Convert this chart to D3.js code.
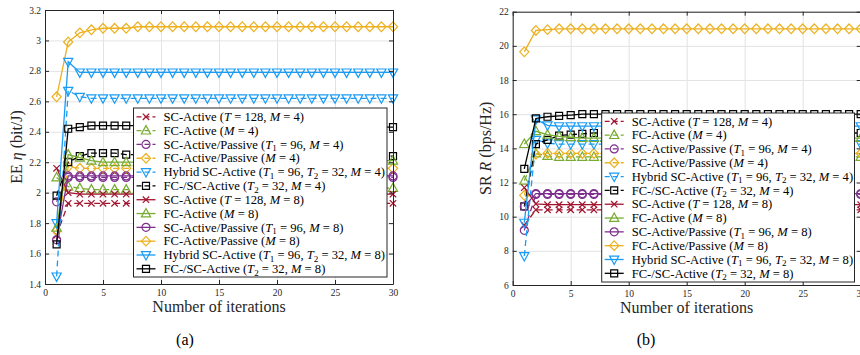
<!DOCTYPE html>
<html>
<head>
<meta charset="utf-8">
<script src="https://cdn.jsdelivr.net/npm/d3@7"></script>
<style>
  body { margin: 0; background: #fff; }
  svg { display: block; }
  svg text { font-family: "Liberation Serif", "DejaVu Serif", serif; }
</style>
</head>
<body>
<div id="chart"></div>
<script>
// iterations on the x axis
const iterations = [1, 2, 3, 4, 5, 6, 7, 8, 9, 10, 11, 12, 13, 14, 15, 16, 17, 18, 19, 20, 21, 22, 23, 24, 25, 26, 27, 28, 29, 30];

// legend labels (markup: *x* italic, _n subscript)
const labels = [
  "SC-Active (*T* = 128, *M* = 4)",
  "FC-Active (*M* = 4)",
  "SC-Active/Passive (*T*_1 = 96, *M* = 4)",
  "FC-Active/Passive (*M* = 4)",
  "Hybrid SC-Active (*T*_1 = 96, *T*_2 = 32, *M* = 4)",
  "FC-/SC-Active (*T*_2 = 32, *M* = 4)",
  "SC-Active (*T* = 128, *M* = 8)",
  "FC-Active (*M* = 8)",
  "SC-Active/Passive (*T*_1 = 96, *M* = 8)",
  "FC-Active/Passive (*M* = 8)",
  "Hybrid SC-Active (*T*_1 = 96, *T*_2 = 32, *M* = 8)",
  "FC-/SC-Active (*T*_2 = 32, *M* = 8)"
];

// (a) energy efficiency, bit/J
const eeScAct4 = [1.72, 1.93, 1.93, 1.93, 1.93, 1.93, 1.93, 1.93, 1.93, 1.93,
                  1.93, 1.93, 1.93, 1.93, 1.93, 1.93, 1.93, 1.93, 1.93, 1.93,
                  1.93, 1.93, 1.93, 1.93, 1.93, 1.93, 1.93, 1.93, 1.93, 1.93];
const eeFcAct4 = [2.10, 2.04, 2.03, 2.02, 2.02, 2.02, 2.02, 2.02, 2.02, 2.02,
                  2.02, 2.02, 2.02, 2.02, 2.02, 2.02, 2.02, 2.02, 2.02, 2.02,
                  2.02, 2.02, 2.02, 2.02, 2.03, 2.03, 2.03, 2.03, 2.03, 2.03];
const eeScPas4 = [1.94, 2.10, 2.10, 2.10, 2.10, 2.10, 2.10, 2.10, 2.10, 2.10,
                  2.10, 2.10, 2.10, 2.10, 2.10, 2.10, 2.10, 2.10, 2.10, 2.10,
                  2.10, 2.10, 2.10, 2.10, 2.10, 2.10, 2.10, 2.10, 2.10, 2.10];
const eeFcPas4 = [1.75, 2.17, 2.16, 2.16, 2.16, 2.16, 2.16, 2.16, 2.16, 2.16,
                  2.16, 2.16, 2.16, 2.16, 2.16, 2.16, 2.16, 2.16, 2.16, 2.16,
                  2.16, 2.16, 2.16, 2.16, 2.16, 2.16, 2.16, 2.16, 2.16, 2.16];
const eeHyb4   = [1.45, 2.67, 2.63, 2.62, 2.62, 2.62, 2.62, 2.62, 2.62, 2.62,
                  2.62, 2.62, 2.62, 2.62, 2.62, 2.62, 2.62, 2.62, 2.62, 2.62,
                  2.62, 2.62, 2.62, 2.62, 2.62, 2.62, 2.62, 2.62, 2.62, 2.62];
const eeFcSc4  = [1.98, 2.20, 2.24, 2.26, 2.26, 2.26, 2.25, 2.25, 2.25, 2.25,
                  2.25, 2.25, 2.25, 2.25, 2.25, 2.25, 2.25, 2.25, 2.25, 2.25,
                  2.24, 2.24, 2.24, 2.24, 2.24, 2.24, 2.24, 2.24, 2.24, 2.24];
const eeScAct8 = [2.16, 2.00, 1.99, 1.99, 1.99, 1.99, 1.99, 1.99, 1.99, 1.99,
                  1.99, 1.99, 1.99, 1.99, 1.99, 1.99, 1.99, 1.99, 1.99, 1.99,
                  1.99, 1.99, 1.99, 1.99, 1.99, 1.99, 1.99, 1.99, 1.99, 1.99];
const eeFcAct8 = [1.77, 2.25, 2.23, 2.21, 2.20, 2.20, 2.20, 2.20, 2.20, 2.20,
                  2.20, 2.20, 2.20, 2.20, 2.20, 2.20, 2.20, 2.20, 2.20, 2.20,
                  2.20, 2.20, 2.20, 2.20, 2.21, 2.21, 2.21, 2.21, 2.21, 2.21];
const eeScPas8 = [1.69, 2.11, 2.11, 2.11, 2.11, 2.11, 2.11, 2.11, 2.11, 2.11,
                  2.11, 2.11, 2.11, 2.11, 2.11, 2.11, 2.11, 2.11, 2.11, 2.11,
                  2.11, 2.11, 2.11, 2.11, 2.11, 2.11, 2.11, 2.11, 2.11, 2.11];
const eeFcPas8 = [2.63, 2.99, 3.05, 3.07, 3.08, 3.08, 3.08, 3.09, 3.09, 3.09,
                  3.09, 3.09, 3.09, 3.09, 3.09, 3.09, 3.09, 3.09, 3.09, 3.09,
                  3.09, 3.09, 3.09, 3.09, 3.09, 3.09, 3.09, 3.09, 3.09, 3.09];
const eeHyb8   = [1.80, 2.86, 2.79, 2.79, 2.79, 2.79, 2.79, 2.79, 2.79, 2.79,
                  2.79, 2.79, 2.79, 2.79, 2.79, 2.79, 2.79, 2.79, 2.79, 2.79,
                  2.79, 2.79, 2.79, 2.79, 2.79, 2.79, 2.79, 2.79, 2.79, 2.79];
const eeFcSc8  = [1.66, 2.42, 2.43, 2.44, 2.44, 2.44, 2.44, 2.44, 2.44, 2.44,
                  2.44, 2.44, 2.44, 2.44, 2.44, 2.44, 2.44, 2.44, 2.43, 2.43,
                  2.43, 2.43, 2.43, 2.43, 2.43, 2.43, 2.43, 2.43, 2.43, 2.43];

// (b) sum rate, bps/Hz
const srScAct4 = [9.5, 10.4, 10.4, 10.4, 10.4, 10.4, 10.4, 10.4, 10.4, 10.4,
                  10.4, 10.4, 10.4, 10.4, 10.4, 10.4, 10.4, 10.4, 10.4, 10.4,
                  10.4, 10.4, 10.4, 10.4, 10.4, 10.4, 10.4, 10.4, 10.4, 10.4];
const srFcAct4 = [12.1, 13.7, 13.55, 13.5, 13.5, 13.5, 13.5, 13.5, 13.5, 13.5,
                  13.5, 13.5, 13.5, 13.5, 13.5, 13.5, 13.5, 13.5, 13.5, 13.5,
                  13.5, 13.5, 13.5, 13.5, 13.5, 13.5, 13.5, 13.5, 13.5, 13.5];
const srScPas4 = [9.2, 11.3, 11.3, 11.3, 11.3, 11.3, 11.3, 11.3, 11.3, 11.3,
                  11.3, 11.3, 11.3, 11.3, 11.3, 11.3, 11.3, 11.3, 11.3, 11.3,
                  11.3, 11.3, 11.3, 11.3, 11.3, 11.3, 11.3, 11.3, 11.3, 11.3];
const srFcPas4 = [11.25, 13.65, 13.7, 13.7, 13.7, 13.7, 13.7, 13.7, 13.7, 13.7,
                  13.7, 13.7, 13.7, 13.7, 13.7, 13.7, 13.7, 13.7, 13.7, 13.7,
                  13.7, 13.7, 13.7, 13.7, 13.7, 13.7, 13.7, 13.7, 13.7, 13.7];
const srHyb4   = [7.7, 14.5, 14.3, 14.25, 14.25, 14.25, 14.25, 14.25, 14.25, 14.25,
                  14.25, 14.25, 14.25, 14.25, 14.25, 14.25, 14.25, 14.25, 14.25, 14.25,
                  14.25, 14.25, 14.25, 14.25, 14.25, 14.25, 14.25, 14.25, 14.25, 14.25];
const srFcSc4  = [10.6, 14.25, 14.5, 14.75, 14.8, 14.85, 14.9, 14.9, 14.9, 14.9,
                  14.9, 14.9, 14.9, 14.9, 14.9, 14.9, 14.9, 14.9, 14.9, 14.9,
                  14.9, 14.9, 14.9, 14.9, 14.9, 14.9, 14.9, 14.9, 14.9, 14.9];
const srScAct8 = [11.7, 10.75, 10.7, 10.7, 10.7, 10.7, 10.7, 10.7, 10.7, 10.7,
                  10.7, 10.7, 10.7, 10.7, 10.7, 10.7, 10.7, 10.7, 10.7, 10.7,
                  10.7, 10.7, 10.7, 10.7, 10.7, 10.7, 10.7, 10.7, 10.7, 10.7];
const srFcAct8 = [14.25, 15.0, 14.8, 14.7, 14.65, 14.6, 14.6, 14.6, 14.6, 14.6,
                  14.6, 14.6, 14.6, 14.6, 14.6, 14.6, 14.6, 14.6, 14.6, 14.6,
                  14.6, 14.6, 14.6, 14.6, 14.6, 14.6, 14.6, 14.6, 14.6, 14.6];
const srScPas8 = [10.6, 11.35, 11.35, 11.35, 11.35, 11.35, 11.35, 11.35, 11.35, 11.35,
                  11.35, 11.35, 11.35, 11.35, 11.35, 11.35, 11.35, 11.35, 11.35, 11.35,
                  11.35, 11.35, 11.35, 11.35, 11.35, 11.35, 11.35, 11.35, 11.35, 11.35];
const srFcPas8 = [19.65, 20.9, 20.95, 21.0, 21.0, 21.0, 21.0, 21.0, 21.0, 21.0,
                  21.0, 21.0, 21.0, 21.0, 21.0, 21.0, 21.0, 21.0, 21.0, 21.0,
                  21.0, 21.0, 21.0, 21.0, 21.0, 21.0, 21.0, 21.0, 21.0, 21.0];
const srHyb8   = [9.65, 15.7, 15.35, 15.3, 15.3, 15.3, 15.3, 15.3, 15.3, 15.3,
                  15.3, 15.3, 15.3, 15.3, 15.3, 15.3, 15.3, 15.3, 15.3, 15.3,
                  15.3, 15.3, 15.3, 15.3, 15.3, 15.3, 15.3, 15.3, 15.3, 15.3];
const srFcSc8  = [12.8, 15.75, 15.85, 15.9, 15.95, 16.0, 16.0, 16.0, 16.0, 16.0,
                  16.0, 16.0, 16.0, 16.0, 16.0, 16.0, 16.0, 16.0, 16.0, 16.0,
                  16.0, 16.0, 16.0, 16.0, 16.0, 16.0, 16.0, 16.0, 16.0, 16.0];

const xTicks = [0, 5, 10, 15, 20, 25, 30];
const eeTicks = [1.4, 1.6, 1.8, 2, 2.2, 2.4, 2.6, 2.8, 3, 3.2];
const srTicks = [6, 8, 10, 12, 14, 16, 18, 20, 22];

// styles per legend entry
const colors  = ["#a2142f", "#77ac30", "#7e2f8e", "#edb120", "#1a9cf5", "#000000"];
const markers = ["x", "tri", "circle", "diamond", "tridown", "square"];
const SERIF = "Liberation Serif, DejaVu Serif, serif";

function markerPath(type) {
  switch (type) {
    case "x": return "M-3.2,-3.2L3.2,3.2M-3.2,3.2L3.2,-3.2";
    case "tri": return "M0,-5L4.6,3.4L-4.6,3.4Z";
    case "tridown": return "M0,5L4.6,-3.4L-4.6,-3.4Z";
    case "diamond": return "M0,-4.8L4.6,0L0,4.8L-4.6,0Z";
    case "square": return "M-3.5,-3.5L3.5,-3.5L3.5,3.5L-3.5,3.5Z";
    case "circle": return "M4,0A4,4 0 1,1 -4,0A4,4 0 1,1 4,0Z";
  }
}

function richText(sel, str) {
  const parts = str.split(/(\*[^*]+\*|_\d)/).filter(s => s.length);
  let shifted = false;
  parts.forEach(p => {
    let t;
    if (p[0] === "_") {
      t = sel.append("tspan").attr("font-size", "0.72em").attr("dy", 2.5).text(p.slice(1));
      shifted = true;
      return;
    }
    t = sel.append("tspan");
    if (shifted) { t.attr("dy", -2.5); shifted = false; }
    if (p[0] === "*") t.attr("font-style", "italic").text(p.slice(1, -1));
    else t.text(p);
  });
}

const svg = d3.select("#chart").append("svg")
    .attr("width", 860)
    .attr("height", 355)
    .attr("font-family", SERIF);

function drawPanel(cfg) {
  const x = d3.scaleLinear().domain([0, 30]).range([cfg.left, cfg.right]);
  const y = d3.scaleLinear().domain(cfg.yDomain).range([cfg.bottom, cfg.top]);
  const w = cfg.right - cfg.left, h = cfg.bottom - cfg.top;
  const g = svg.append("g");

  // grid
  g.append("g")
      .attr("transform", "translate(0," + cfg.bottom + ")")
      .call(d3.axisBottom(x).tickValues(xTicks).tickSize(-h).tickFormat(""))
      .call(s => s.select(".domain").remove())
      .selectAll("line").attr("stroke", "#e3e3e3");
  g.append("g")
      .attr("transform", "translate(" + cfg.left + ",0)")
      .call(d3.axisLeft(y).tickValues(cfg.yTicks).tickSize(-w).tickFormat(""))
      .call(s => s.select(".domain").remove())
      .selectAll("line").attr("stroke", "#e3e3e3");

  // series
  const line = d3.line().x((d, i) => x(iterations[i])).y(d => y(d));
  cfg.series.forEach((vals, k) => {
    const c = colors[k % 6], dashed = k < 6;
    g.append("path")
        .datum(vals)
        .attr("fill", "none")
        .attr("stroke", c)
        .attr("stroke-width", 1.3)
        .attr("stroke-dasharray", dashed ? "6,4" : null)
        .attr("d", line);
    g.append("g").selectAll("path")
        .data(vals)
      .enter().append("path")
        .attr("transform", (d, i) => "translate(" + x(iterations[i]) + "," + y(d) + ")")
        .attr("d", markerPath(markers[k % 6]))
        .attr("fill", "none")
        .attr("stroke", c)
        .attr("stroke-width", 1.2);
  });

  // axes (ticks inward, box)
  const axisStyle = s => {
    s.attr("font-family", SERIF);
    s.selectAll("line").attr("stroke", "#262626");
    s.select(".domain").attr("stroke", "#262626");
    s.selectAll("text").attr("fill", "#262626").attr("font-size", 9.5);
  };
  g.append("g")
      .attr("transform", "translate(0," + cfg.bottom + ")")
      .call(d3.axisBottom(x).tickValues(xTicks).tickSizeInner(-4).tickSizeOuter(0).tickPadding(5))
      .call(axisStyle);
  g.append("g")
      .attr("transform", "translate(0," + cfg.top + ")")
      .call(d3.axisTop(x).tickValues(xTicks).tickSizeInner(-4).tickSizeOuter(0).tickFormat(""))
      .call(axisStyle);
  g.append("g")
      .attr("transform", "translate(" + cfg.left + ",0)")
      .call(d3.axisLeft(y).tickValues(cfg.yTicks).tickSizeInner(-4).tickSizeOuter(0).tickPadding(4)
              .tickFormat(d => String(d)))
      .call(axisStyle);
  g.append("g")
      .attr("transform", "translate(" + cfg.right + ",0)")
      .call(d3.axisRight(y).tickValues(cfg.yTicks).tickSizeInner(-4).tickSizeOuter(0).tickFormat(""))
      .call(axisStyle);

  // axis titles
  g.append("text")
      .attr("x", (cfg.left + cfg.right) / 2)
      .attr("y", cfg.bottom + 28)
      .attr("text-anchor", "middle")
      .attr("font-size", 16)
      .attr("fill", "#262626")
      .text("Number of iterations");
  const yl = g.append("text")
      .attr("transform", "translate(" + cfg.yLabelX + "," + ((cfg.top + cfg.bottom) / 2) + ") rotate(-90)")
      .attr("text-anchor", "middle")
      .attr("font-size", 16)
      .attr("fill", "#262626");
  richText(yl, cfg.yLabel);

  // legend
  const L = cfg.legend;
  const lg = g.append("g");
  lg.append("rect")
      .attr("x", L.x0).attr("y", L.y0)
      .attr("width", L.x1 - L.x0).attr("height", L.y1 - L.y0)
      .attr("fill", "#fff").attr("stroke", "#262626").attr("stroke-width", 1);
  labels.forEach((lab, k) => {
    const ry = L.row0 + k * L.dy;
    const c = colors[k % 6];
    lg.append("line")
        .attr("x1", L.x0 + 3).attr("x2", L.x0 + 22)
        .attr("y1", ry).attr("y2", ry)
        .attr("stroke", c).attr("stroke-width", 1.3)
        .attr("stroke-dasharray", k < 6 ? "5,3" : null);
    lg.append("path")
        .attr("transform", "translate(" + (L.x0 + 12.5) + "," + ry + ")")
        .attr("d", markerPath(markers[k % 6]))
        .attr("fill", "none").attr("stroke", c).attr("stroke-width", 1.2);
    const t = lg.append("text")
        .attr("x", L.x0 + 30)
        .attr("y", ry + 4.2)
        .attr("font-size", 12.6)
        .attr("fill", "#000");
    richText(t, lab);
  });

  // panel caption
  svg.append("text")
      .attr("x", cfg.captionX).attr("y", 345)
      .attr("text-anchor", "middle")
      .attr("font-size", 16)
      .text(cfg.caption);
}

drawPanel({
  left: 45, right: 393, top: 10, bottom: 284,
  yDomain: [1.4, 3.2], yTicks: eeTicks,
  yLabel: "EE *η* (bit/J)", yLabelX: 22,
  series: [eeScAct4, eeFcAct4, eeScPas4, eeFcPas4, eeHyb4, eeFcSc4,
           eeScAct8, eeFcAct8, eeScPas8, eeFcPas8, eeHyb8, eeFcSc8],
  legend: { x0: 133.5, x1: 387, y0: 108, y1: 277, row0: 116.8, dy: 13.82 },
  caption: "(a)", captionX: 185
});

drawPanel({
  left: 512.7, right: 860.7, top: 11.7, bottom: 285,
  yDomain: [6, 22], yTicks: srTicks,
  yLabel: "SR *R* (bps/Hz)", yLabelX: 491,
  series: [srScAct4, srFcAct4, srScPas4, srFcPas4, srHyb4, srFcSc4,
           srScAct8, srFcAct8, srScPas8, srFcPas8, srHyb8, srFcSc8],
  legend: { x0: 601.7, x1: 854.5, y0: 113, y1: 282, row0: 121.3, dy: 13.82 },
  caption: "(b)", captionX: 646
});
</script>
</body>
</html>
